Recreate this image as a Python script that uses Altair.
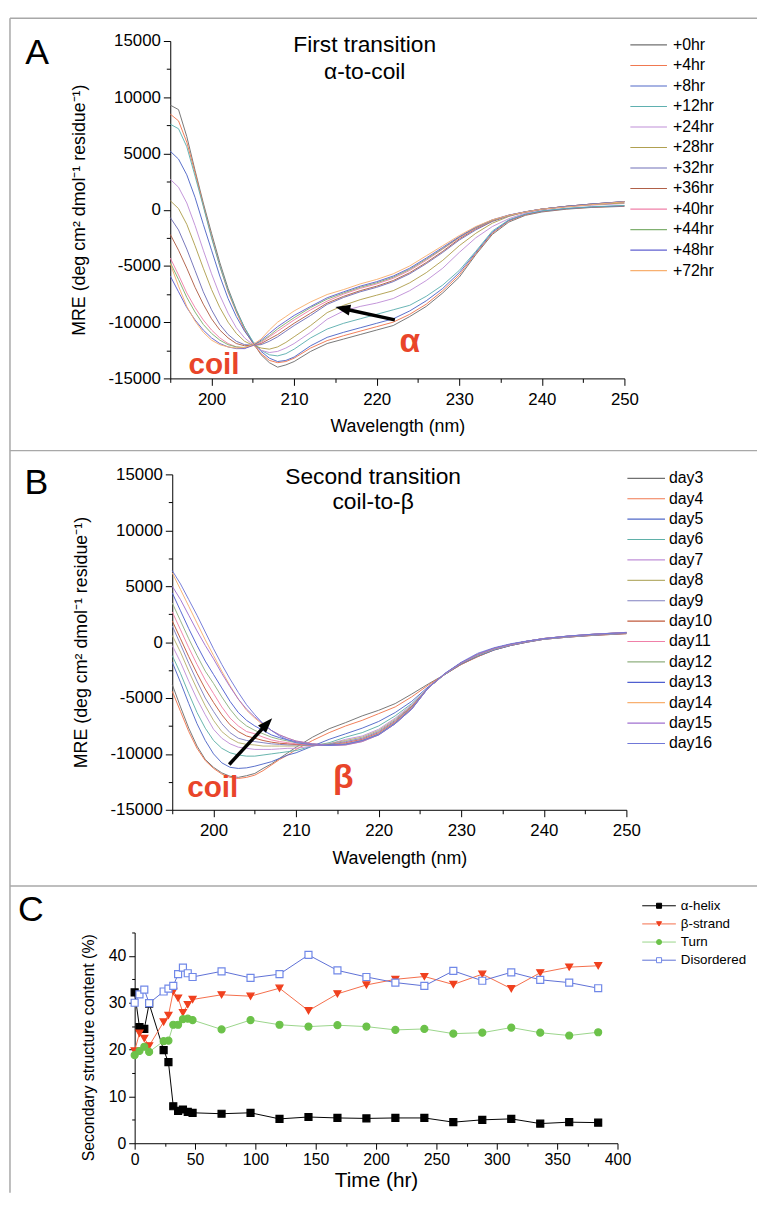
import altair as alt
import pandas as pd

# ---------------- data: panel A (alpha-to-coil) ----------------
wavelength = [195, 196, 197, 198, 199, 200, 201, 202, 203, 204, 205, 206, 207, 208, 209, 210,
              212, 214, 216, 218, 220, 222, 224, 226, 228, 230, 232, 234, 236, 238, 240, 243, 246, 250]

a_series = ["+0hr", "+4hr", "+8hr", "+12hr", "+24hr", "+28hr", "+32hr", "+36hr",
            "+40hr", "+44hr", "+48hr", "+72hr"]
a_colors = ["#707070", "#f07850", "#5068c8", "#5fb0b0", "#c090d8", "#b0a050",
            "#7070b8", "#b06048", "#f080a8", "#80b070", "#6060d0", "#f8b070"]

a_0hr = [9300, 8900, 6500, 3500, 600, -2100, -4700, -7000, -8900, -10500, -11800, -12900, -13600, -14000, -13800, -13500,
         -12600, -11900, -11500, -11100, -10700, -10300, -9500, -8600, -7400, -6000, -4000, -2200, -1100, -500, -200, 50, 200, 300]
a_4hr = [8500, 7900, 6000, 3300, 400, -2400, -5000, -7300, -9100, -10700, -11900, -12800, -13400, -13600, -13500, -13200,
         -12300, -11640, -11200, -10800, -10400, -10000, -9300, -8400, -7200, -5800, -3900, -2100, -1000, -450, -150, 80, 220, 330]
a_8hr = [5200, 4500, 3100, 1100, -1300, -3600, -5900, -7900, -9500, -10800, -11800, -12600, -13200, -13500, -13400, -13100,
         -12100, -11350, -10900, -10500, -10100, -9700, -9000, -8100, -7000, -5600, -3800, -2000, -950, -400, -120, 100, 240, 350]
a_12hr = [7600, 7200, 5600, 3000, 300, -2500, -5000, -7200, -9000, -10500, -11700, -12500, -12900, -13000, -12800, -12400,
          -11400, -10610, -10100, -9700, -9300, -8900, -8500, -7700, -6700, -5400, -3700, -1900, -900, -380, -100, 120, 260, 380]
a_24hr = [2700, 2000, 600, -1400, -3600, -5700, -7600, -9200, -10500, -11400, -12000, -12500, -12700, -12600, -12300, -11900,
          -10900, -9740, -9000, -8600, -8300, -7900, -7200, -6300, -5200, -3800, -2500, -1500, -800, -300, 0, 250, 400, 550]
a_28hr = [800, 100, -1300, -3200, -5200, -7100, -8700, -10000, -11000, -11700, -12050, -12300, -12400, -12200, -11800, -11300,
          -10300, -9150, -8500, -8000, -7600, -7200, -6500, -5600, -4500, -3200, -2100, -1200, -600, -200, 50, 300, 450, 600]
a_32hr = [-700, -1800, -3500, -5400, -7300, -8900, -10200, -11100, -11700, -12000, -12050, -12000, -11700, -11300, -10800, -10300,
          -9400, -8420, -7800, -7300, -6900, -6400, -5700, -4800, -3800, -2700, -1800, -1050, -550, -200, 50, 300, 500, 700]
a_36hr = [-2200, -3600, -5200, -6900, -8400, -9700, -10700, -11400, -11900, -12100, -12050, -11900, -11500, -11100, -10600, -10100,
          -9200, -8300, -7700, -7200, -6800, -6300, -5600, -4700, -3700, -2600, -1700, -1000, -500, -200, 50, 300, 500, 700]
a_40hr = [-4300, -5800, -7400, -8700, -9800, -10700, -11400, -11900, -12200, -12300, -12100, -11800, -11300, -10800, -10300, -9800,
          -8900, -8130, -7500, -7000, -6600, -6100, -5400, -4500, -3500, -2500, -1650, -950, -500, -200, 50, 300, 500, 720]
a_44hr = [-4700, -6200, -7800, -9100, -10200, -11000, -11600, -12000, -12200, -12250, -12050, -11700, -11200, -10600, -10100, -9600,
          -8700, -7950, -7400, -6900, -6500, -6000, -5300, -4400, -3450, -2450, -1600, -950, -500, -200, 50, 300, 500, 720]
a_48hr = [-5900, -7300, -8700, -9800, -10700, -11400, -11900, -12200, -12350, -12350, -12050, -11600, -11000, -10400, -9900, -9400,
          -8600, -7830, -7300, -6800, -6400, -5900, -5200, -4300, -3350, -2400, -1550, -900, -480, -180, 60, 300, 500, 730]
a_72hr = [-4800, -6800, -8600, -9900, -10900, -11600, -12000, -12200, -12300, -12250, -12000, -11500, -10700, -10000, -9500, -9000,
          -8200, -7540, -7100, -6600, -6200, -5700, -5000, -4100, -3200, -2300, -1500, -900, -500, -200, 50, 250, 450, 700]

# ---------------- data: panel B (coil-to-beta) ----------------
b_series = ["day3", "day4", "day5", "day6", "day7", "day8", "day9", "day10",
            "day11", "day12", "day13", "day14", "day15", "day16"]
b_colors = ["#707070", "#f07850", "#5068c8", "#5fb0a8", "#c090d8", "#b8b070", "#8080c0",
            "#c05a3c", "#f080a8", "#90b080", "#4f5fd0", "#f8b070", "#a070d0", "#7078d8"]

b_day3 = [-3800, -5800, -7700, -9300, -10500, -11200, -11700, -12000, -12100, -11950, -11750, -11300, -10900, -10400, -9900, -9400,
          -8500, -7750, -7200, -6600, -6100, -5500, -4650, -3750, -2900, -2000, -1300, -700, -300, 0, 250, 450, 600, 750]
b_day4 = [-4400, -6200, -8000, -9500, -10600, -11300, -11800, -12100, -12200, -12100, -11900, -11500, -11000, -10500, -10100, -9600,
          -8800, -8100, -7500, -7000, -6400, -5800, -4900, -3850, -2900, -2000, -1300, -700, -300, 0, 250, 450, 600, 750]
b_day5 = [-1800, -3600, -5500, -7300, -8800, -10000, -10800, -11200, -11300, -11250, -11100, -10900, -10700, -10400, -10100, -9900,
          -9300, -8700, -8200, -7700, -7100, -6300, -5300, -4000, -2900, -1950, -1250, -700, -300, 0, 250, 450, 620, 780]
b_day6 = [-1200, -2800, -4600, -6300, -7700, -8800, -9500, -9900, -10100, -10200, -10200, -10100, -10000, -9900, -9800, -9700,
          -9300, -9000, -8500, -8100, -7500, -6600, -5500, -4100, -2900, -1900, -1200, -650, -250, 50, 280, 480, 640, 800]
b_day7 = [-300, -1800, -3500, -5100, -6500, -7800, -8600, -9100, -9400, -9500, -9600, -9600, -9600, -9550, -9500, -9500,
          -9300, -9100, -8700, -8400, -7800, -6800, -5600, -4100, -2850, -1850, -1150, -620, -250, 50, 280, 480, 650, 800]
b_day8 = [600, -900, -2600, -4200, -5700, -7000, -8000, -8600, -9000, -9150, -9200, -9300, -9300, -9300, -9300, -9300,
          -9200, -9100, -8800, -8500, -7900, -6900, -5700, -4100, -2850, -1850, -1150, -600, -230, 60, 290, 500, 660, 820]
b_day9 = [1450, -200, -1900, -3500, -5000, -6200, -7300, -8100, -8600, -8800, -8900, -9000, -9100, -9150, -9200, -9200,
          -9200, -9150, -8900, -8600, -8000, -7000, -5750, -4100, -2850, -1850, -1100, -580, -220, 70, 300, 510, 670, 830]
b_day10 = [1900, 300, -1300, -2800, -4200, -5400, -6500, -7400, -8000, -8400, -8600, -8800, -8950, -9050, -9100, -9150,
           -9200, -9200, -9000, -8700, -8100, -7100, -5800, -4100, -2850, -1850, -1100, -560, -200, 80, 310, 520, 680, 840]
b_day11 = [2700, 1100, -500, -2000, -3400, -4600, -5800, -6800, -7500, -8000, -8200, -8500, -8750, -8900, -9000, -9100,
           -9200, -9200, -9050, -8750, -8150, -7150, -5850, -4100, -2850, -1850, -1100, -550, -200, 80, 320, 530, 690, 850]
b_day12 = [3500, 1900, 300, -1200, -2600, -3700, -4900, -6000, -6900, -7500, -7900, -8200, -8500, -8700, -8850, -9000,
           -9150, -9200, -9100, -8800, -8200, -7200, -5900, -4100, -2850, -1850, -1100, -550, -200, 80, 320, 530, 700, 860]
b_day13 = [4400, 2800, 1200, -300, -1700, -2900, -4100, -5300, -6300, -7000, -7500, -7900, -8300, -8550, -8750, -8900,
           -9100, -9200, -9150, -8850, -8250, -7250, -5950, -4100, -2850, -1850, -1100, -550, -200, 80, 320, 540, 700, 860]
b_day14 = [6200, 4700, 3200, 1700, 200, -1200, -2600, -3900, -5100, -6100, -6800, -7400, -7900, -8300, -8600, -8850,
           -9100, -9250, -9200, -8900, -8300, -7300, -6000, -4100, -2850, -1850, -1100, -550, -200, 80, 320, 540, 700, 870]
b_day15 = [5000, 3800, 2400, 1000, -300, -1500, -2800, -4000, -5100, -6000, -6700, -7300, -7900, -8300, -8600, -8850,
           -9100, -9250, -9200, -8900, -8300, -7300, -6000, -4100, -2850, -1850, -1100, -550, -200, 80, 320, 540, 710, 870]
b_day16 = [6400, 5200, 3800, 2400, 900, -600, -2000, -3300, -4500, -5600, -6500, -7300, -7900, -8400, -8750, -9000,
           -9200, -9250, -9150, -8800, -8300, -7300, -6000, -4100, -2800, -1800, -1000, -500, -150, 100, 300, 550, 700, 850]

# ---------------- data: panel C (secondary structure content) ----------------
c_time = [0, 4, 8, 12, 24, 28, 32, 36, 40, 44, 48, 72, 96, 120, 144, 168, 192, 216, 240, 264, 288, 312, 336, 360, 384]
c_series = ["α-helix", "β-strand", "Turn", "Disordered"]
c_helix = [32.2, 24.8, 24.4, 29.8, 19.9, 17.3, 7.9, 6.9, 7.2, 6.7, 6.5, 6.3, 6.5, 5.2, 5.6, 5.4, 5.3, 5.4, 5.4, 4.5, 5.0, 5.2, 4.2, 4.5, 4.4]
c_strand = [19.7, 23.5, 22.4, 20.8, 25.9, 27.3, 32.4, 31.0, 27.9, 29.6, 30.7, 31.7, 31.4, 33.1, 28.3, 31.9, 33.8, 35.0, 35.6, 33.9, 36.1, 33.0, 36.4, 37.6, 37.9]
c_turn = [18.8, 19.7, 20.6, 19.5, 21.8, 21.9, 25.3, 25.3, 26.5, 26.6, 26.3, 24.3, 26.3, 25.3, 24.9, 25.2, 24.9, 24.2, 24.4, 23.4, 23.6, 24.7, 23.6, 23.0, 23.7]
c_disordered = [30.0, 31.8, 32.8, 29.9, 32.4, 33.0, 33.6, 36.1, 37.5, 36.3, 35.5, 36.7, 35.3, 36.1, 40.2, 36.9, 35.5, 34.3, 33.6, 36.8, 34.7, 36.5, 34.9, 34.3, 33.1]
c_line_colors = ["#000000", "#f46d4a", "#9ad58a", "#5d6fd6"]
c_fill_colors = ["#000000", "#f0401e", "#6cc24a", "#ffffff"]
c_stroke_colors = ["#000000", "#f0401e", "#6cc24a", "#7088e8"]
c_shapes = ["square", "triangle-down", "circle", "square"]

# ---------------- styling / layout (canvas pixels) ----------------
W, H = 757, 1191
SANS = "Liberation Sans, Arial, Helvetica, sans-serif"
RED = "#e9452a"
FRAME = "#a8a8a8"
HEAD = "M0,0L0.55,1.5L-0.55,1.5Z"

one = pd.DataFrame({"k": [0]})


def long_df(names, arrays, xs, xname, yname):
    rows = []
    for n, arr in zip(names, arrays):
        for xv, yv in zip(xs, arr):
            rows.append({"series": n, xname: xv, yname: yv})
    return pd.DataFrame(rows)


def rule_px(x1, y1, x2, y2):
    return alt.Chart(one).mark_rule(color=FRAME, strokeWidth=1.5).encode(
        x=alt.value(x1), x2=alt.value(x2), y=alt.value(y1), y2=alt.value(y2))


def pixel_text(txt, x, y, size, weight="normal", color="black", font=SANS):
    return alt.Chart(pd.DataFrame({"t": [txt]})).mark_text(
        font=font, fontSize=size, fontWeight=weight, color=color, align="center", baseline="alphabetic"
    ).encode(x=alt.value(x), y=alt.value(y), text="t:N")


def spectra_axes(left, bottom):
    xa = alt.Axis(
        orient="bottom", offset=bottom - H,
        values=list(range(195, 251, 5)),
        labelExpr="datum.value % 10 === 0 ? '' + datum.value : ''",
        tickSize={"condition": {"test": "datum.value % 10 === 0", "value": 7}, "value": 4},
        title="Wavelength (nm)", grid=False, domainColor="black", tickColor="black",
        labelFont=SANS, labelFontSize=17, labelColor="black", labelPadding=6,
        labelFlush=False, labelOverlap=False,
        titleFont=SANS, titleFontSize=18, titleFontWeight="normal", titleColor="black", titlePadding=11)
    ya = alt.Axis(
        orient="left", offset=-left,
        values=list(range(-15000, 15001, 2500)),
        labelExpr="datum.value % 5000 === 0 ? '' + datum.value : ''",
        tickSize={"condition": {"test": "datum.value % 5000 === 0", "value": 7}, "value": 4},
        title="MRE (deg cm² dmol⁻¹ residue⁻¹)", grid=False, domainColor="black", tickColor="black",
        labelFont=SANS, labelFontSize=17, labelColor="black", labelPadding=3,
        labelFlush=False, labelOverlap=False,
        titleFont=SANS, titleFontSize=18, titleFontWeight="normal", titleColor="black", titlePadding=20)
    return xa, ya


def spectra_layers(names, colors, arrays, box, letter, titles, legend, coil, greek, arrow):
    left, right, top, bottom = box
    df = long_df(names, arrays, wavelength, "wl", "mre")
    wl_scale = alt.Scale(domain=[195, 250], range=[left, right], nice=False, zero=False)
    mre_scale = alt.Scale(domain=[-15000, 15000], range=[bottom, top], nice=False, zero=False)
    cscale = alt.Scale(domain=names, range=colors)
    xa, ya = spectra_axes(left, bottom)
    X = alt.X("wl:Q", scale=wl_scale, axis=xa)
    Y = alt.Y("mre:Q", scale=mre_scale, axis=ya)
    Xn = alt.X("wl:Q", scale=wl_scale, axis=None)
    Yn = alt.Y("mre:Q", scale=mre_scale, axis=None)

    lines = alt.Chart(df).mark_line(strokeWidth=1, opacity=0.95).encode(
        x=X, y=Y, color=alt.Color("series:N", scale=cscale, legend=None))

    tail, base, tip, angle = arrow
    arr_df = pd.DataFrame({"wl": [tail[0], base[0]], "mre": [tail[1], base[1]]})
    arrow_line = alt.Chart(arr_df).mark_line(color="black", strokeWidth=3.5).encode(x=Xn, y=Yn)
    head_df = pd.DataFrame({"wl": [tip[0]], "mre": [tip[1]]})
    arrow_head = alt.Chart(head_df).mark_point(
        shape=HEAD, filled=True, size=400, angle=angle, color="black", opacity=1).encode(x=Xn, y=Yn)

    coil_df = pd.DataFrame({"wl": [coil[0]], "mre": [coil[1]], "t": ["coil"]})
    coil_txt = alt.Chart(coil_df).mark_text(
        font=SANS, fontSize=30, fontWeight="bold", color=RED, baseline="alphabetic").encode(x=Xn, y=Yn, text="t:N")
    greek_df = pd.DataFrame({"wl": [greek[0]], "mre": [greek[1]], "t": [greek[2]]})
    greek_txt = alt.Chart(greek_df).mark_text(
        font=SANS, fontSize=34, fontWeight="bold", color=RED, baseline="alphabetic").encode(x=Xn, y=Yn, text="t:N")

    rx0, rx1, tx, yr = legend
    leg_df = pd.DataFrame({"series": names})
    leg_y = alt.Y("series:N", scale=alt.Scale(type="point", domain=names, range=yr, padding=0), axis=None)
    leg_rule = alt.Chart(leg_df).mark_rule(strokeWidth=1.2).encode(
        x=alt.value(rx0), x2=alt.value(rx1), y=leg_y, color=alt.Color("series:N", scale=cscale, legend=None))
    leg_text = alt.Chart(leg_df).mark_text(
        align="left", baseline="middle", font=SANS, fontSize=16, color="black").encode(
        x=alt.value(tx), y=leg_y, text="series:N")

    layers = [lines, arrow_line, arrow_head, coil_txt, greek_txt, leg_rule, leg_text,
              pixel_text(letter[0], letter[1], letter[2], 36)]
    for t in titles:
        layers.append(pixel_text(t[0], t[1], t[2], 23))
    return layers


layers_a = spectra_layers(
    a_series, a_colors,
    [a_0hr, a_4hr, a_8hr, a_12hr, a_24hr, a_28hr, a_32hr, a_36hr, a_40hr, a_44hr, a_48hr, a_72hr],
    box=(164, 623, 27, 368),
    letter=("A", 29.5, 50),
    titles=[("First transition", 360.5, 38), ("α-to-coil", 360.5, 65)],
    legend=(629, 666, 672, [31, 259]),
    coil=(200.3, -14580),
    greek=(224.0, -12670, "α"),
    arrow=((222.2, -9794), (216.4, -8870), (215.0, -8650), 282),
)

layers_b = spectra_layers(
    b_series, b_colors,
    [b_day3, b_day4, b_day5, b_day6, b_day7, b_day8, b_day9, b_day10, b_day11, b_day12, b_day13,
     b_day14, b_day15, b_day16],
    box=(166, 625, 465, 804),
    letter=("B", 28.7, 485),
    titles=[("Second transition", 369, 475), ("coil-to-β", 369, 500)],
    legend=(626, 664, 668, [469, 737]),
    coil=(199.9, -13900),
    greek=(215.7, -13010, "β"),
    arrow=((201.9, -10947), (206.1, -7595), (207.1, -6815), 43),
)

# ---------------- panel C ----------------
C_LEFT, C_RIGHT, C_TOP, C_BOTTOM = 128, 616, 928, 1141
c_df = long_df(c_series, [c_helix, c_strand, c_turn, c_disordered], c_time, "time", "pct")
t_scale = alt.Scale(domain=[0, 400], range=[C_LEFT, C_RIGHT], nice=False, zero=False)
p_scale = alt.Scale(domain=[0, 45], range=[C_BOTTOM, C_TOP], nice=False, zero=False)
t_axis = alt.Axis(
    orient="bottom", offset=C_BOTTOM - H,
    values=list(range(0, 401, 25)),
    labelExpr="datum.value % 50 === 0 ? '' + datum.value : ''",
    tickSize={"condition": {"test": "datum.value % 50 === 0", "value": 6}, "value": 3},
    title="Time (hr)", grid=False, domainColor="black", tickColor="black",
    labelFont=SANS, labelFontSize=16, labelColor="black", labelPadding=2, labelFlush=False, labelOverlap=False,
    titleFont=SANS, titleFontSize=21, titleFontWeight="normal", titleColor="black", titlePadding=3)
p_axis = alt.Axis(
    orient="left", offset=-C_LEFT,
    values=list(range(0, 46, 5)),
    labelExpr="datum.value % 10 === 0 ? '' + datum.value : ''",
    tickSize={"condition": {"test": "datum.value % 10 === 0", "value": 6}, "value": 3},
    title="Secondary structure content (%)", grid=False, domainColor="black", tickColor="black",
    labelFont=SANS, labelFontSize=16, labelColor="black", labelPadding=3, labelFlush=False, labelOverlap=False,
    titleFont=SANS, titleFontSize=16, titleFontWeight="normal", titleColor="black", titlePadding=12,
    titleY=1044)

c_line_scale = alt.Scale(domain=c_series, range=c_line_colors)
c_fill_scale = alt.Scale(domain=c_series, range=c_fill_colors)
c_stroke_scale = alt.Scale(domain=c_series, range=c_stroke_colors)
c_shape_scale = alt.Scale(domain=c_series, range=c_shapes)

c_lines = alt.Chart(c_df).mark_line(strokeWidth=1).encode(
    x=alt.X("time:Q", scale=t_scale, axis=t_axis),
    y=alt.Y("pct:Q", scale=p_scale, axis=p_axis),
    color=alt.Color("series:N", scale=c_line_scale, legend=None))
c_points = alt.Chart(c_df).mark_point(filled=True, size=50, opacity=1, strokeWidth=1.2).encode(
    x=alt.X("time:Q", scale=t_scale, axis=None),
    y=alt.Y("pct:Q", scale=p_scale, axis=None),
    fill=alt.Fill("series:N", scale=c_fill_scale, legend=None),
    stroke=alt.Stroke("series:N", scale=c_stroke_scale, legend=None),
    shape=alt.Shape("series:N", scale=c_shape_scale, legend=None))

c_leg_df = pd.DataFrame({"series": c_series})
c_leg_y = alt.Y("series:N", scale=alt.Scale(type="point", domain=c_series, range=[901, 956], padding=0), axis=None)
c_leg_rule = alt.Chart(c_leg_df).mark_rule(strokeWidth=1).encode(
    x=alt.value(641), x2=alt.value(675), y=c_leg_y, color=alt.Color("series:N", scale=c_line_scale, legend=None))
c_leg_pt = alt.Chart(c_leg_df).mark_point(filled=True, size=26, opacity=1, strokeWidth=1).encode(
    x=alt.value(658), y=c_leg_y,
    fill=alt.Fill("series:N", scale=c_fill_scale, legend=None),
    stroke=alt.Stroke("series:N", scale=c_stroke_scale, legend=None),
    shape=alt.Shape("series:N", scale=c_shape_scale, legend=None))
c_leg_text = alt.Chart(c_leg_df).mark_text(align="left", baseline="middle", font=SANS, fontSize=13.5, color="black").encode(
    x=alt.value(680), y=c_leg_y, text="series:N")

layers_c = [c_lines, c_points, c_leg_rule, c_leg_pt, c_leg_text, pixel_text("C", 23, 916, 36)]

# ---------------- frame (figure panel borders) ----------------
frame = [rule_px(2, 4, 2, H), rule_px(2, 4, W, 4), rule_px(2, 441, W, 441), rule_px(2, 881, W, 881)]

chart = alt.layer(*frame, *layers_a, *layers_b, *layers_c).resolve_scale(
    x="independent", y="independent", color="independent",
    fill="independent", stroke="independent", shape="independent"
).properties(
    width=W, height=H, padding=0, autosize=alt.AutoSizeParams(type="none")
).configure_view(strokeWidth=0)

chart.save("out.html", embed_options={"renderer": "svg", "actions": False})
